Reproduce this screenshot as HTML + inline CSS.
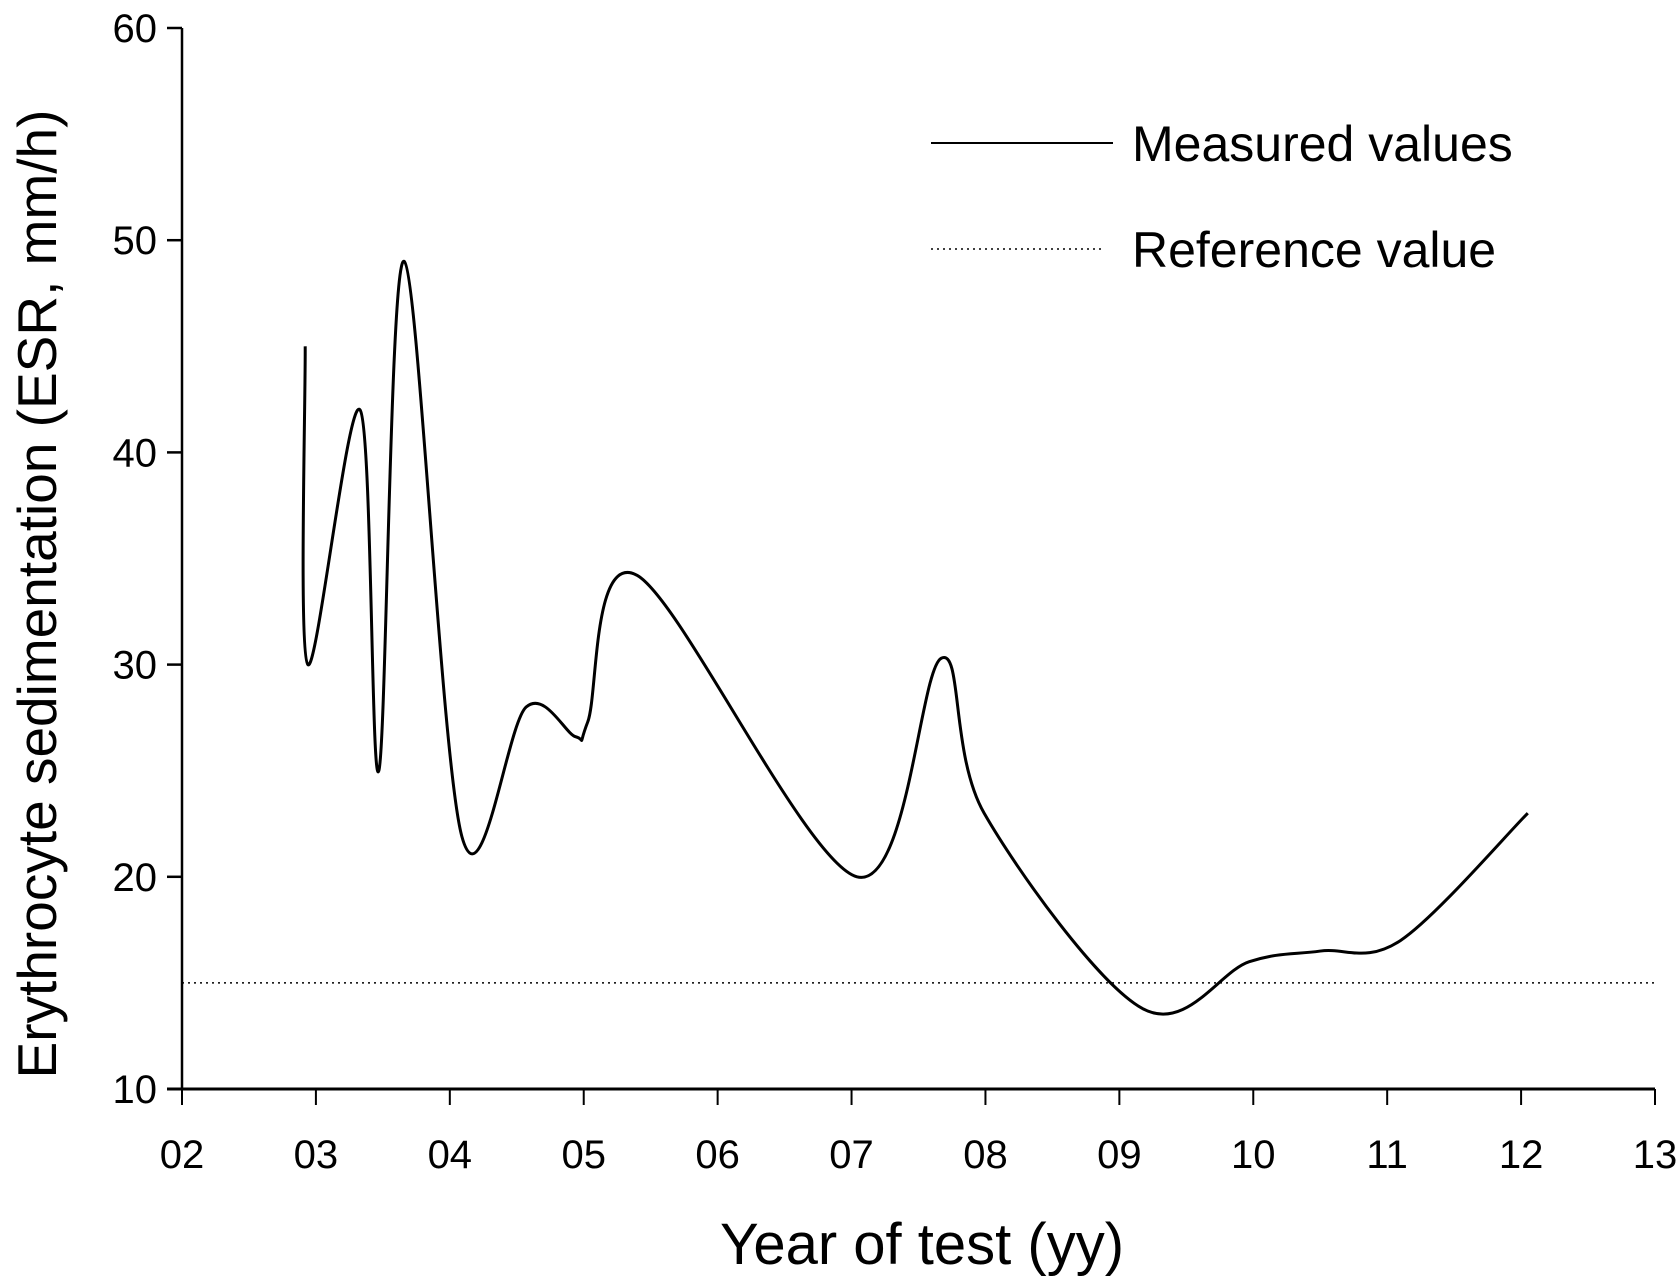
<!DOCTYPE html>
<html><head><meta charset="utf-8"><style>body{margin:0;background:#fff}svg{display:block}text{font-family:"Liberation Sans",Arial,sans-serif;fill:#000}</style></head>
<body>
<svg id="chart" width="1677" height="1285" viewBox="0 0 1677 1285"></svg>
<script>
const xTicks=[2,3,4,5,6,7,8,9,10,11,12,13];
const xTickLabels=["02","03","04","05","06","07","08","09","10","11","12","13"];
const yTicks=[10,20,30,40,50,60];
const measuredX=[2.92,2.94,3.33,3.47,3.66,4.09,4.57,4.94,5.03,5.4,7.04,7.67,7.99,9.17,9.97,10.5,11.1,12.05];
const measuredY=[45,30,42,25,49,21.9,28,26.6,27.3,34.2,20,30.3,23,13.8,16,16.5,17,23];
const referenceValue=[15];
const NS="http://www.w3.org/2000/svg";
const svg=document.getElementById('chart');
const X0=182,X1=1655,Y0=1089,Y1=28;
const sx=v=>X0+(v-2)/11*(X1-X0);
const sy=v=>Y0-(v-10)/50*(Y0-Y1);
function mk(t,a,txt){const e=document.createElementNS(NS,t);for(const k in a)e.setAttribute(k,a[k]);if(txt!==undefined)e.textContent=txt;svg.appendChild(e);return e;}
let e;
e=mk('line',{x1:X0,y1:Y1,x2:X0,y2:Y0,stroke:'#000','stroke-width':2.5});


e=mk('line',{x1:X0-15,y1:Y0,x2:X1,y2:Y0,stroke:'#000','stroke-width':3});


yTicks.forEach(v=>{
 e=mk('line',{x1:X0-15,y1:sy(v),x2:X0,y2:sy(v),stroke:'#000','stroke-width':2.5});
 
 
 e=mk('text',{x:X0-25,y:sy(v)+14,'text-anchor':'end','font-size':40},String(v));
 
 
});
xTicks.forEach((v,i)=>{
 e=mk('line',{x1:sx(v),y1:Y0,x2:sx(v),y2:Y0+16,stroke:'#000','stroke-width':2});
 
 
 e=mk('text',{x:sx(v),y:1168,'text-anchor':'middle','font-size':40},xTickLabels[i]);
 
 
});
e=mk('text',{x:922,y:1264,'text-anchor':'middle','font-size':58},'Year of test (yy)');


e=mk('text',{x:0,y:0,'text-anchor':'middle','font-size':55,transform:'translate(56,594) rotate(-90)'},'Erythrocyte sedimentation (ESR, mm/h)');


e=mk('line',{x1:X0,y1:sy(referenceValue[0]),x2:X1,y2:sy(referenceValue[0]),stroke:'#000','stroke-width':1.5,'stroke-dasharray':'2,4'});


const P=measuredX.map((x,i)=>[sx(x),sy(measuredY[i])]);
let d='M'+P[0][0]+','+P[0][1];
for(let i=0;i<P.length-1;i++){
 const p0=P[Math.max(0,i-1)],p1=P[i],p2=P[i+1],p3=P[Math.min(P.length-1,i+2)];
 const t=6;
 const c1=[p1[0]+(p2[0]-p0[0])/t,p1[1]+(p2[1]-p0[1])/t];
 const c2=[p2[0]-(p3[0]-p1[0])/t,p2[1]-(p3[1]-p1[1])/t];
 if(c1[0]<p1[0])c1[0]=p1[0]; if(c2[0]>p2[0])c2[0]=p2[0];
 d+=` C${c1[0]},${c1[1]} ${c2[0]},${c2[1]} ${p2[0]},${p2[1]}`;
}
e=mk('path',{d:d,fill:'none',stroke:'#000','stroke-width':3});


e=mk('line',{x1:931,y1:143,x2:1113,y2:143,stroke:'#000','stroke-width':2});


e=mk('text',{x:1132,y:161,'font-size':50},'Measured values');


e=mk('line',{x1:931,y1:249,x2:1103,y2:249,stroke:'#000','stroke-width':1.5,'stroke-dasharray':'2,4'});


e=mk('text',{x:1132,y:267,'font-size':50},'Reference value');


</script>
</body></html>
